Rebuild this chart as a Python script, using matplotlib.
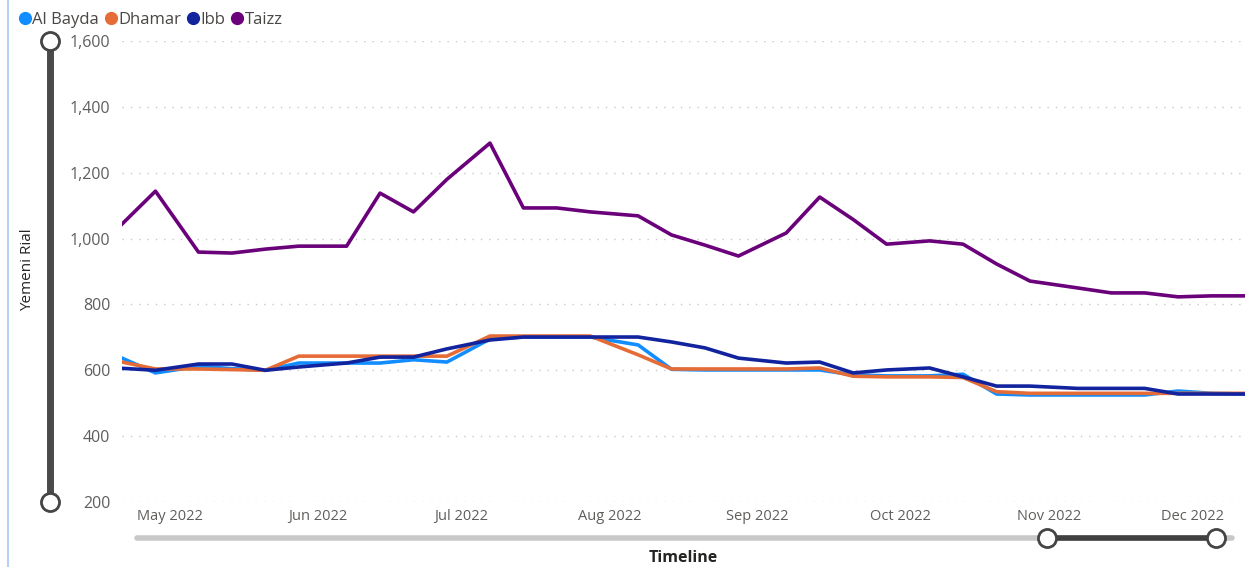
"""
Weekly price of a commodity in four Yemeni governorates (Apr - Dec 2022).
Writes out.png (1247x567).
"""

import matplotlib

matplotlib.use("Agg")
import matplotlib.dates as mdates
import matplotlib.pyplot as plt
import pandas as pd
from matplotlib.lines import Line2D
from matplotlib.ticker import FuncFormatter


DATES = [
    "2022-04-21", "2022-04-28", "2022-05-07", "2022-05-14", "2022-05-21", "2022-05-28",
    "2022-06-07", "2022-06-14", "2022-06-21", "2022-06-28", "2022-07-07", "2022-07-14",
    "2022-07-21", "2022-07-28", "2022-08-07", "2022-08-14", "2022-08-21", "2022-08-28",
    "2022-09-07", "2022-09-14", "2022-09-21", "2022-09-28", "2022-10-07", "2022-10-14",
    "2022-10-21", "2022-10-28", "2022-11-07", "2022-11-14", "2022-11-21", "2022-11-28",
    "2022-12-05", "2022-12-12",
]

AL_BAYDA = [637, 592, 612, 605, 600, 622, 622, 622, 632, 625, 695, 701,
            701, 701, 677, 603, 601, 601, 601, 601, 586, 583, 583, 588,
            528, 525, 525, 525, 525, 537, 530, 528]
DHAMAR = [625, 604, 604, 602, 600, 643, 643, 643, 643, 643, 704, 704,
          704, 704, 647, 604, 604, 604, 604, 607, 582, 580, 580, 578,
          535, 530, 530, 530, 530, 530, 530, 530]
IBB = [606, 600, 619, 619, 600, 610, 622, 640, 640, 665, 692, 701,
       701, 701, 701, 686, 668, 637, 622, 625, 592, 601, 607, 580,
       552, 552, 545, 545, 545, 528, 528, 528]
TAIZZ = [1044, 1144, 959, 956, 968, 977, 977, 1138, 1081, 1180, 1290, 1093,
         1093, 1081, 1069, 1011, 980, 947, 1017, 1126, 1058, 983, 993, 983,
         923, 871, 850, 835, 835, 823, 826, 826]

SERIES = ["Al Bayda", "Dhamar", "Ibb", "Taizz"]
COLORS = ["#118DFF", "#E66C37", "#12239E", "#6B007B"]
Y_TICKS = [200, 400, 600, 800, 1000, 1200, 1400, 1600]

W, H = 1247, 567
FONT = ["Open Sans", "DejaVu Sans"]
TICK_COLOR = "#605E5C"
TEXT_COLOR = "#252423"


def px(x, y):
    # pixel (from top-left) -> figure fraction
    return x / W, 1 - y / H


def slider(fig, p0, p1, color, lw):
    fig.add_artist(Line2D([p0[0], p1[0]], [p0[1], p1[1]], transform=fig.transFigure,
                          color=color, linewidth=lw, solid_capstyle="round"))


def knob(fig, p):
    fig.add_artist(Line2D([p[0]], [p[1]], transform=fig.transFigure, marker="o",
                          markersize=13, markerfacecolor="white", markeredgecolor="#444444",
                          markeredgewidth=2.0, linestyle="none"))


def main():
    plt.rcParams["font.family"] = FONT
    dates = pd.to_datetime(DATES)
    values = [AL_BAYDA, DHAMAR, IBB, TAIZZ]

    fig = plt.figure(figsize=(W / 100, H / 100), dpi=100)
    left, top = px(122, 41)
    right, bottom = px(1245, 502)
    ax = fig.add_axes([left, bottom, right - left, top - bottom])

    for name, vals, color in zip(SERIES, values, COLORS):
        ax.plot(dates, vals, color=color, linewidth=2.6, label=name, solid_joinstyle="round")

    ax.set_xlim(dates[0], dates[-1])
    ax.set_ylim(200, 1600)
    ax.set_yticks(Y_TICKS)
    ax.yaxis.set_major_formatter(FuncFormatter(lambda v, _: f"{int(v):,}"))
    ax.xaxis.set_major_locator(mdates.MonthLocator())
    ax.xaxis.set_major_formatter(mdates.DateFormatter("%b %Y"))
    ax.tick_params(axis="both", length=0, colors=TICK_COLOR)
    ax.tick_params(axis="y", pad=8.5, labelsize=11.5)
    ax.tick_params(axis="x", pad=5, labelsize=10.5)
    ax.grid(axis="y", linestyle=(0, (1, 5)), color="#C8C8C8", linewidth=1.0)
    for spine in ax.spines.values():
        spine.set_visible(False)

    # legend row
    fig.legend(loc="upper left", bbox_to_anchor=px(15, 5), ncol=4, frameon=False,
               handles=[Line2D([], [], marker="o", linestyle="none", markersize=8.5, color=c)
                        for c in COLORS],
               labels=SERIES, handlelength=0.45, handletextpad=0.2, columnspacing=0.5,
               borderaxespad=0, prop={"size": 12}, labelcolor="#4A4846")

    # left frame border
    fig.add_artist(Line2D([8 / W, 8 / W], [0, 1], transform=fig.transFigure,
                          color="#B3D1F2", linewidth=1.5))

    # y range slider
    slider(fig, px(50, 41), px(50, 502), "#4A4A4A", 5)
    knob(fig, px(50, 41))
    knob(fig, px(50, 502))
    fig.text(*px(28, 270), "Yemeni Rial", rotation=90, ha="center", va="center",
             fontsize=11, color=TEXT_COLOR)

    # timeline slider
    slider(fig, px(137, 538), px(1232, 538), "#C8C8C8", 4)
    slider(fig, px(1047, 538), px(1216, 538), "#404040", 4)
    knob(fig, px(1047, 538))
    knob(fig, px(1216, 538))
    fig.text(*px(683, 558), "Timeline", ha="center", va="center", fontsize=11.5,
             fontweight="bold", color=TEXT_COLOR)

    fig.savefig("out.png", dpi=100, facecolor="white")
    plt.close(fig)


if __name__ == "__main__":
    main()
